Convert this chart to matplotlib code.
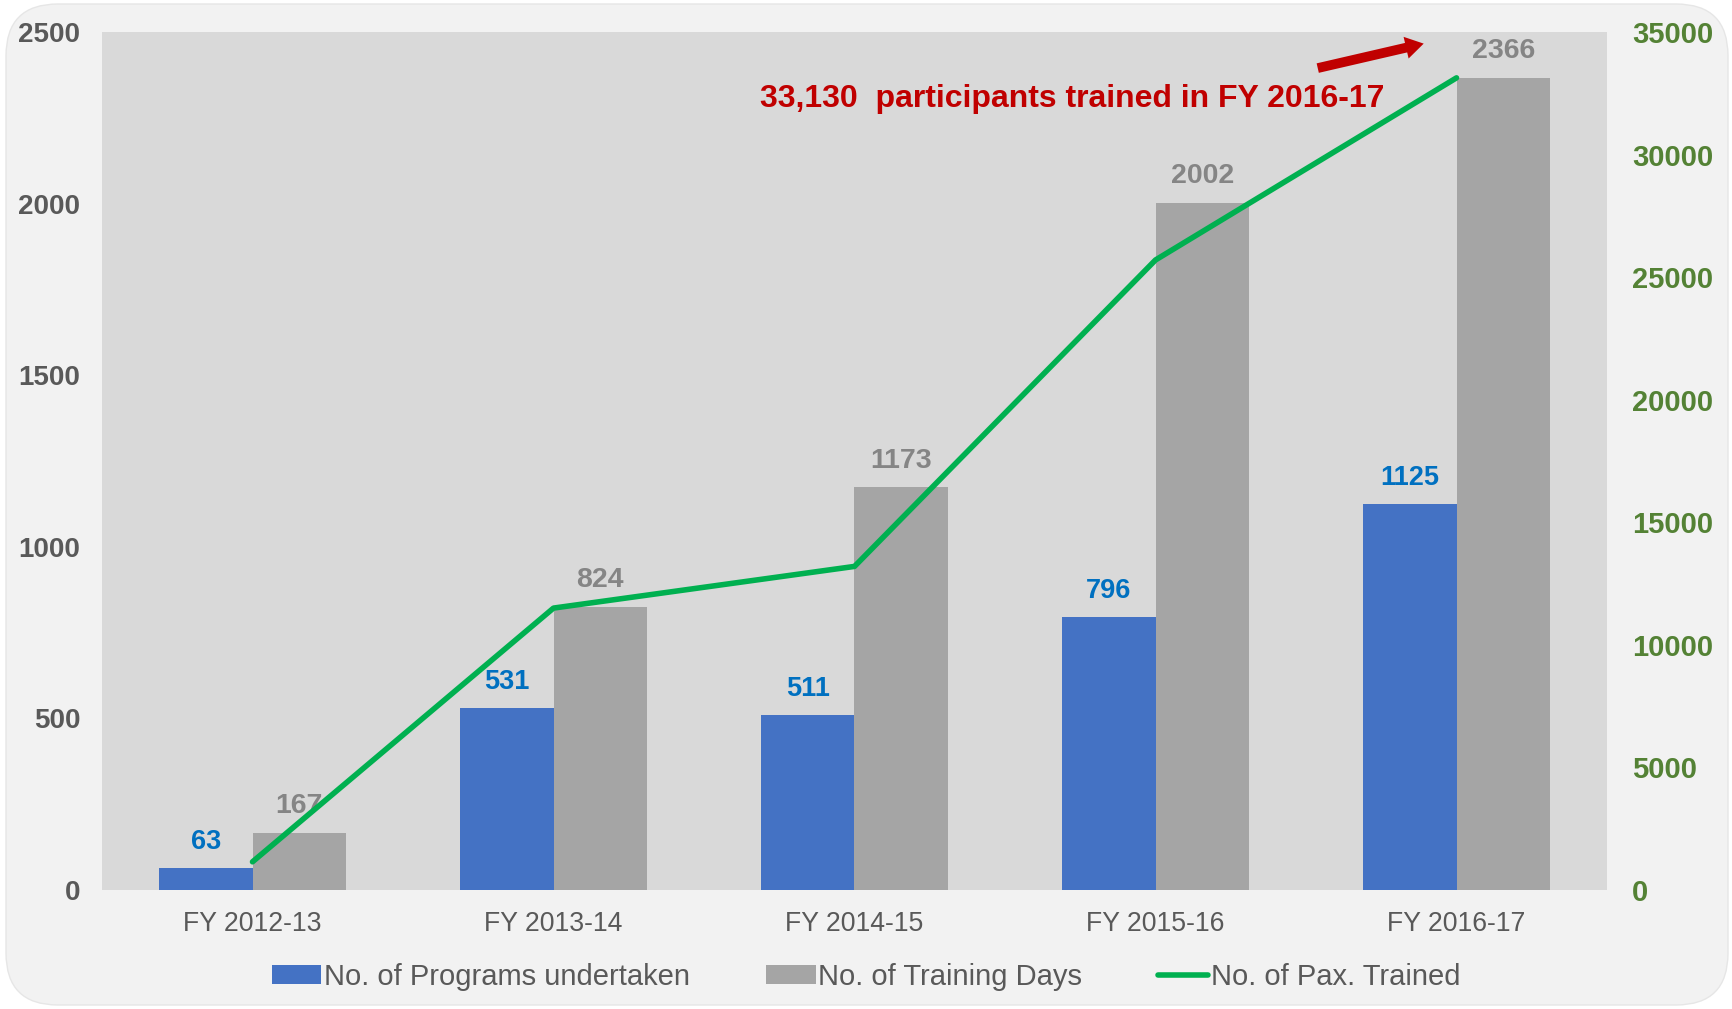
import matplotlib.pyplot as plt
from matplotlib.patches import FancyBboxPatch
import numpy as np

plt.rcParams['font.family'] = ['Liberation Sans', 'DejaVu Sans']

# data
years = ['FY 2012-13', 'FY 2013-14', 'FY 2014-15', 'FY 2015-16', 'FY 2016-17']
programs = [63, 531, 511, 796, 1125]
training_days = [167, 824, 1173, 2002, 2366]
pax_trained = [1150, 11500, 13200, 25700, 33130]

left_ticks = [0, 500, 1000, 1500, 2000, 2500]
right_ticks = [0, 5000, 10000, 15000, 20000, 25000, 30000, 35000]

fig = plt.figure(figsize=(17.32, 10.09), dpi=100)
fig.patch.set_facecolor('white')
bg = FancyBboxPatch((6 / 1732, 4 / 1009), 1722 / 1732, 1001 / 1009,
                    boxstyle='round,pad=0,rounding_size=0.03',
                    transform=fig.transFigure, facecolor='#f2f2f2',
                    edgecolor='#e6e6e6', linewidth=1, zorder=-10,
                    mutation_aspect=1732 / 1009)
fig.patches.append(bg)

ax = fig.add_axes([102 / 1732, 1 - 890 / 1009, 1505 / 1732, 858 / 1009])
ax.set_facecolor('#d9d9d9')
x = np.arange(len(years))
w = 0.31

ax.bar(x - w / 2, programs, w, color='#4472c4', label='No. of Programs undertaken', zorder=2)
ax.bar(x + w / 2, training_days, w, color='#a5a5a5', label='No. of Training Days', zorder=2)

for xi, v in zip(x, programs):
    ax.text(xi - w / 2, v + 38, str(v), ha='center', va='bottom', fontsize=19.5,
            fontweight='bold', color='#0070c0')
for xi, v in zip(x, training_days):
    ax.text(xi + w / 2, v + 40, str(v), ha='center', va='bottom', fontsize=20.5,
            fontweight='bold', color='#858585')

ax.set_xlim(-0.5, 4.5)
ax.set_ylim(0, 2500)
ax.set_yticks(left_ticks)
ax.set_xticks(x)
ax.set_xticklabels(years)
ax.tick_params(axis='y', length=0, pad=15.5, labelsize=20, labelcolor='#595959')
ax.tick_params(axis='x', length=0, pad=15, labelsize=19.2, labelcolor='#595959')
for lbl in ax.get_yticklabels():
    lbl.set_fontweight('bold')
for s in ax.spines.values():
    s.set_visible(False)

ax2 = ax.twinx()
ax2.plot(x, pax_trained, color='#00b050', lw=4, solid_capstyle='round',
         label='No. of Pax. Trained', zorder=3)
ax2.set_ylim(0, 35000)
ax2.set_yticks(right_ticks)
ax2.tick_params(axis='y', length=0, pad=18, labelsize=21, labelcolor='#548235')
for lbl in ax2.get_yticklabels():
    lbl.set_fontweight('bold')
for s in ax2.spines.values():
    s.set_visible(False)

# annotation
ax.text(3.76, 2305, '33,130  participants trained in FY 2016-17', ha='right', va='center',
        fontsize=23, fontweight='bold', color='#c00000', zorder=5)
ax.annotate('', xy=(3.90, 2468), xytext=(3.53, 2393),
            arrowprops=dict(arrowstyle='simple,head_width=1.6,head_length=1.3,tail_width=0.7',
                            color='#c00000', lw=0), zorder=5)

h1, l1 = ax.get_legend_handles_labels()
h2, l2 = ax2.get_legend_handles_labels()
leg = fig.legend(h1 + h2, l1 + l2, loc='center', bbox_to_anchor=(0.5, 1 - 977 / 1009),
                 ncol=3, frameon=False, prop={'size': 21},
                 handlelength=1.7, handleheight=0.6, handletextpad=0.1, columnspacing=2.6)
for t in leg.get_texts():
    t.set_color('#595959')

fig.savefig('out.png', dpi=100, facecolor=fig.get_facecolor())
